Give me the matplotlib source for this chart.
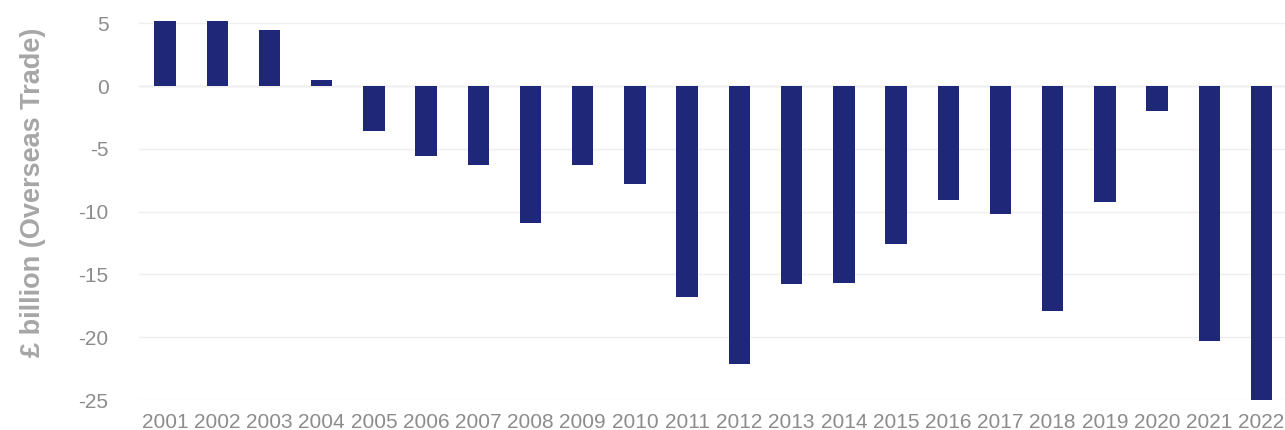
import matplotlib.pyplot as plt
import numpy as np

plt.rcParams['font.family'] = ['Liberation Sans', 'DejaVu Sans']

years = [str(y) for y in range(2001, 2023)]
balance = [5.2, 5.2, 4.5, 0.5, -3.6, -5.6, -6.3, -10.9, -6.3, -7.8, -16.8,
           -22.1, -15.8, -15.7, -12.6, -9.1, -10.2, -17.9, -9.2, -2.0, -20.3, -25.0]
yticks = [5, 0, -5, -10, -15, -20, -25]

fig = plt.figure(figsize=(12.85, 4.3), dpi=100)
ax = fig.add_axes([139 / 1285, 30 / 430, 1 - 139 / 1285 + 0.002, 1 - 30 / 430])

x = np.arange(len(years))
ax.bar(x, balance, width=0.41, color='#1f2878', zorder=3)

ax.set_xlim(-0.5, len(years) - 0.5)
ax.set_ylim(-25, 6.86)
ax.set_yticks(yticks)
ax.set_yticklabels([str(t) for t in yticks])
ax.set_xticks(x)
ax.set_xticklabels(years)
ax.tick_params(axis='both', length=0, labelsize=15, colors='#8c8c8c')
ax.tick_params(axis='y', pad=22)
ax.tick_params(axis='x', pad=9)
ax.grid(axis='y', color='#efefef', linewidth=1, zorder=0)
ax.axhline(0, color='#d9d9d9', linewidth=1, zorder=1)
for s in ax.spines.values():
    s.set_visible(False)

fig.text(33 / 1285, 1 - 192 / 430, '£ billion (Overseas Trade)', rotation=90,
         ha='center', va='center', fontsize=19.5, fontweight='bold', color='#a6a6a6')

fig.savefig('out.png', dpi=100)
